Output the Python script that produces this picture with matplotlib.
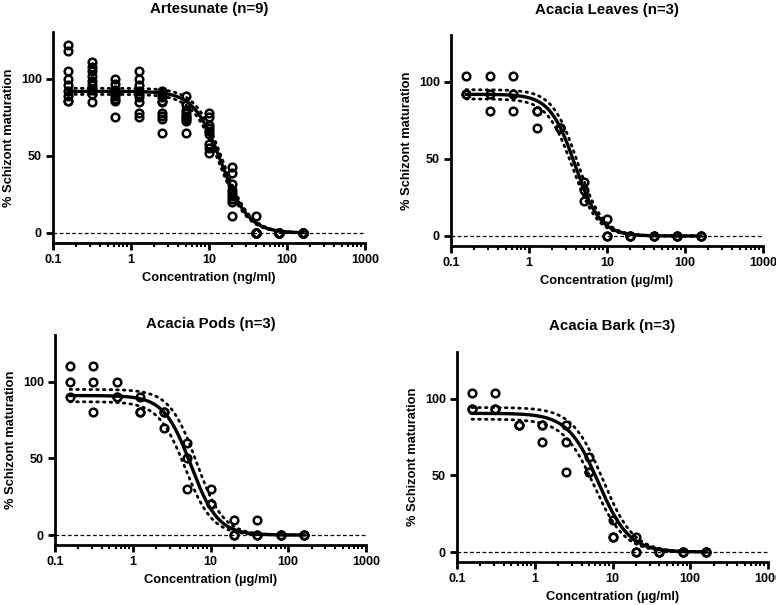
import numpy as np
import matplotlib
matplotlib.use("Agg")
import matplotlib.pyplot as plt

plt.rcParams['font.family'] = ['Liberation Sans', 'DejaVu Sans']
plt.rcParams['font.weight'] = 'bold'

# concentrations of the two-fold dilution series
conc = [0.156, 0.3125, 0.625, 1.25, 2.5, 5, 10, 20, 40, 80, 160]

# replicate values (one list per concentration)
art_vals = [
    [122, 118, 105, 100, 96, 92, 89, 86, 86],
    [111, 108, 105, 102, 99, 96, 93, 90, 85],
    [100, 97, 93, 91, 90, 89, 87, 86, 75],
    [105, 100, 96, 92, 90, 88, 85, 78, 75],
    [92, 90, 88, 86, 85, 78, 76, 74, 65],
    [89, 83, 80, 78, 76, 75, 74, 73, 65],
    [78, 75, 70, 68, 66, 64, 58, 55, 52],
    [43, 39, 32, 28, 26, 24, 22, 20, 11],
    [11, 0, 0, 0, 0, 0, 0, 0, 0],
    [0, 0, 0, 0, 0, 0, 0, 0, 0],
    [0, 0, 0, 0, 0, 0, 0, 0, 0],
]
leaves_vals = [
    [104, 92, 92], [104, 92, 81], [104, 92, 81], [81, 81, 70], [70, 70, 70],
    [35, 30, 23], [11, 0, 0], [0, 0, 0], [0, 0, 0], [0, 0, 0], [0, 0, 0],
]
pods_vals = [
    [110, 100, 90], [110, 100, 80], [100, 90, 90], [90, 80, 80], [80, 80, 70],
    [60, 50, 30], [30, 20, 20], [10, 0, 0], [10, 0, 0], [0, 0, 0], [0, 0, 0],
]
bark_vals = [
    [104, 93, 93], [104, 93, 93], [83, 83, 83], [83, 83, 72], [83, 72, 52],
    [62, 52, 52], [21, 10, 10], [10, 0, 0], [0, 0, 0], [0, 0, 0], [0, 0, 0],
]

titles = ["Artesunate (n=9)", "Acacia Leaves (n=3)", "Acacia Pods (n=3)", "Acacia Bark (n=3)"]
xlabels = ["Concentration (ng/ml)", "Concentration (\u00b5g/ml)",
           "Concentration (\u00b5g/ml)", "Concentration (\u00b5g/ml)"]

# fitted curve parameters: top, IC50, hill slope
fit_top = [92, 92, 91, 90.5]
fit_ic50 = [14.3, 3.9, 5.6, 6.6]
fit_hill = [2.5, 2.7, 2.5, 2.2]
# confidence band: plateau spread and IC50 factor
band_top = [2, 3, 4, 3.8]
band_ic = [1.05, 1.08, 1.18, 1.14]

# axes boxes in pixels: left, top, right, bottom
boxes = [(53, 32, 365, 243), (451, 35, 763, 246), (55, 335, 366, 545), (457, 352, 768, 562)]
title_pads = [14, 15, 5, 16]

W, H = 776, 605
fig = plt.figure(figsize=(W / 100, H / 100), dpi=100)

def logistic(x, top, ic, h):
    return top / (1 + (x / ic) ** h)

all_vals = [art_vals, leaves_vals, pods_vals, bark_vals]
xs = np.logspace(np.log10(0.156), np.log10(160), 400)

for i in range(4):
    l, t, r, b = boxes[i]
    ax = fig.add_axes([l / W, 1 - b / H, (r - l) / W, (b - t) / H])
    vals = all_vals[i]
    px = []
    py = []
    for c, reps in zip(conc, vals):
        for v in reps:
            px.append(c)
            py.append(v)
    ax.axhline(0, color='black', lw=0.9, ls=(0, (3, 2)), zorder=1)
    ax.plot(xs, logistic(xs, fit_top[i] + band_top[i], fit_ic50[i] * band_ic[i], fit_hill[i]),
            color='black', lw=2.0, ls=(0, (0.6, 1.8)), dash_capstyle='round', zorder=2)
    ax.plot(xs, logistic(xs, fit_top[i] - band_top[i], fit_ic50[i] / band_ic[i], fit_hill[i]),
            color='black', lw=2.0, ls=(0, (0.6, 1.8)), dash_capstyle='round', zorder=2)
    ax.plot(xs, logistic(xs, fit_top[i], fit_ic50[i], fit_hill[i]), color='black', lw=2.4, zorder=3)
    ax.plot(px, py, ls='none', marker='o', ms=5.5, mfc='none', mec='black', mew=1.8, zorder=4)

    ax.set_xscale('log')
    ax.set_xlim(0.1, 1000)
    ax.set_ylim(-6.5, 130.5)
    ax.set_xticks([0.1, 1, 10, 100, 1000])
    ax.set_xticklabels(["0.1", "1", "10", "100", "1000"])
    ax.set_yticks([0, 50, 100])
    for s in ['top', 'right']:
        ax.spines[s].set_visible(False)
    for s in ['left', 'bottom']:
        ax.spines[s].set_linewidth(2.0)
    ax.tick_params(axis='both', which='major', width=2.0, length=5, labelsize=9, pad=3)
    ax.tick_params(axis='x', which='minor', width=1.5, length=3)
    ax.tick_params(axis='y', which='minor', left=False)
    ax.set_title(titles[i], fontsize=10.8, fontweight='bold', pad=title_pads[i])
    ax.set_xlabel(xlabels[i], fontsize=9.3, fontweight='bold', labelpad=4)
    ax.set_ylabel("% Schizont maturation", fontsize=9.3, fontweight='bold', labelpad=4)

fig.savefig("out.png", dpi=100)
